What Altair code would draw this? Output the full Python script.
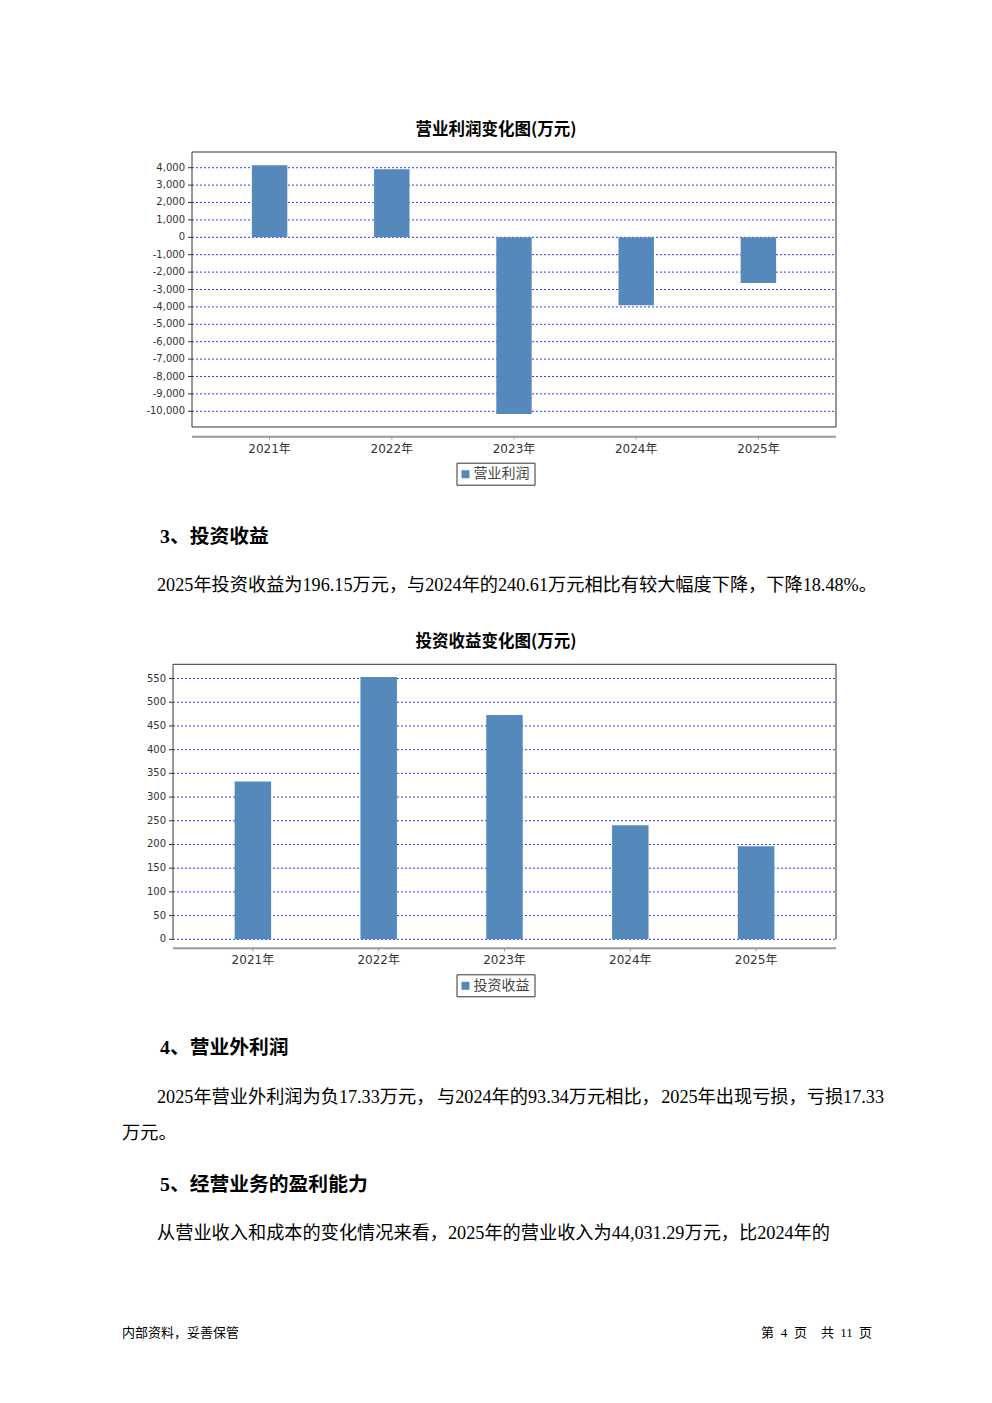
import altair as alt
import pandas as pd

# ---------------- data ----------------
years = ["2021年", "2022年", "2023年", "2024年", "2025年"]
operating_profit = [4140, 3910, -10150, -3910, -2625]
investment_income = [333, 553, 473, 240.61, 196.15]

op_ticks = [4000, 3000, 2000, 1000, 0, -1000, -2000, -3000, -4000, -5000,
            -6000, -7000, -8000, -9000, -10000]
op_tick_labels = ["4,000", "3,000", "2,000", "1,000", "0", "-1,000", "-2,000",
                  "-3,000", "-4,000", "-5,000", "-6,000", "-7,000", "-8,000",
                  "-9,000", "-10,000"]
inv_ticks = [550, 500, 450, 400, 350, 300, 250, 200, 150, 100, 50, 0]
inv_tick_labels = ["550", "500", "450", "400", "350", "300", "250", "200",
                   "150", "100", "50", "0"]

title1 = "营业利润变化图(万元)"
title2 = "投资收益变化图(万元)"
legend1 = "营业利润"
legend2 = "投资收益"

# ---------------- styling ----------------
O = 8  # page margin
BAR = "#5589bc"
GRID = "#3535ff"
FRAME = "#333333"
AXIS = "#9a9a9a"
LABEL = "#333333"
TICKFONT = "DejaVu Sans, Noto Sans CJK SC"
CJK = "Noto Sans CJK SC"
BODYFONT = "Liberation Serif, Noto Sans CJK SC"

DUMMY = pd.DataFrame({"k": [0]})


def P(v):
    return v - O


def seg(x1, y1, x2, y2, color=FRAME, width=1):
    return alt.Chart(DUMMY).mark_rule(color=color, strokeWidth=width).encode(
        x=alt.value(P(x1)), x2=alt.value(P(x2)),
        y=alt.value(P(y1)), y2=alt.value(P(y2)))


def txt(s, x, y, size, font=BODYFONT, weight="normal", align="left",
        color="#000000", baseline="middle"):
    return alt.Chart(DUMMY).mark_text(
        align=align, baseline=baseline, font=font, fontSize=size,
        fontWeight=weight, color=color).encode(
        x=alt.value(P(x)), y=alt.value(P(y)), text=alt.value(s))


def bar_chart(values, ticks, labels, title, legend, g):
    xs = alt.Scale(type="band", domain=years,
                   range=[P(g["left"]), P(g["right"])],
                   paddingInner=0.71, paddingOuter=0.49)
    ys = alt.Scale(domain=g["dom"], range=[P(g["bottom"]), P(g["top"])],
                   nice=False, zero=False)
    df = pd.DataFrame({"year": years, "value": values})
    tdf = pd.DataFrame({"v": ticks, "label": labels})

    grid = alt.Chart(tdf).mark_rule(color=GRID, strokeWidth=1,
                                    strokeDash=[2, 2]).encode(
        y=alt.Y("v:Q", scale=ys, axis=None),
        x=alt.value(P(g["left"])), x2=alt.value(P(g["right"])))
    bars = alt.Chart(df).mark_bar(color=BAR).encode(
        x=alt.X("year:N", scale=xs, axis=None, sort=None),
        y=alt.Y("value:Q", scale=ys, axis=None),
        y2=alt.datum(0))
    yticks = alt.Chart(tdf).mark_rule(color=FRAME, strokeWidth=1).encode(
        y=alt.Y("v:Q", scale=ys, axis=None),
        x=alt.value(P(g["left"] - 4)), x2=alt.value(P(g["left"])))
    ylabels = alt.Chart(tdf).mark_text(
        align="right", baseline="middle", font=TICKFONT, fontSize=10,
        color=LABEL).encode(
        y=alt.Y("v:Q", scale=ys, axis=None),
        x=alt.value(P(g["left"] - 7)), text="label:N")
    xticks = alt.Chart(df).mark_rule(color=AXIS, strokeWidth=1).encode(
        x=alt.X("year:N", scale=xs, axis=None, sort=None, bandPosition=0.5),
        y=alt.value(P(g["axis_y"])), y2=alt.value(P(g["axis_y"] + 3)))
    xlabels = alt.Chart(df).mark_text(
        align="center", baseline="middle", font=TICKFONT, fontSize=12,
        color=LABEL).encode(
        x=alt.X("year:N", scale=xs, axis=None, sort=None, bandPosition=0.5),
        y=alt.value(P(g["axis_y"] + 12)), text="year:N")

    frame = [seg(g["left"], g["top"], g["right"], g["top"]),
             seg(g["left"], g["top"], g["left"], g["bottom"]),
             seg(g["right"], g["top"], g["right"], g["bottom"])]
    if g["bottom_edge"]:
        frame.append(seg(g["left"], g["bottom"], g["right"], g["bottom"]))
    xaxis = seg(g["left"], g["axis_y"], g["right"], g["axis_y"],
                color=AXIS, width=2)

    ly0 = g["axis_y"] + 26.5
    ly1 = g["axis_y"] + 48.5
    lbox = alt.Chart(DUMMY).mark_rect(fill="#ffffff", stroke=FRAME,
                                      strokeWidth=1).encode(
        x=alt.value(P(457)), x2=alt.value(P(535)),
        y=alt.value(P(ly0)), y2=alt.value(P(ly1)))
    lsq = alt.Chart(DUMMY).mark_rect(fill=BAR).encode(
        x=alt.value(P(461.5)), x2=alt.value(P(469.5)),
        y=alt.value(P((ly0 + ly1) / 2 - 4)), y2=alt.value(P((ly0 + ly1) / 2 + 4)))
    ltxt = txt(legend, 473.5, (ly0 + ly1) / 2, 14, font=CJK, color="#444444")
    ttl = txt(title, 496, g["title_y"], 16.5, font=CJK, weight="bold",
              align="center")

    return [grid, bars] + frame + [yticks, ylabels, xaxis, xticks, xlabels,
                                   lbox, lsq, ltxt, ttl]


g1 = dict(left=192, right=836, top=152, bottom=427, axis_y=436.7,
          dom=[-10902, 4902], title_y=130, bottom_edge=True)
g2 = dict(left=173, right=836, top=664.3, bottom=939.3, axis_y=948.3,
          dom=[0, 580], title_y=641.5, bottom_edge=False)

layers = []
layers += bar_chart(operating_profit, op_ticks, op_tick_labels, title1, legend1, g1)
layers += bar_chart(investment_income, inv_ticks, inv_tick_labels, title2, legend2, g2)

HS = 19.8
BS = 18.2
FS = 13
layers += [
    txt("3、投资收益", 160, 537, HS, weight="bold"),
    txt("2025年投资收益为196.15万元，与2024年的240.61万元相比有较大幅度下降，下降18.48%。",
        157, 586, BS),
    txt("4、营业外利润", 160, 1048, HS, weight="bold"),
    txt("2025年营业外利润为负17.33万元，", 157, 1098, BS),
    txt("与2024年的93.34万元相比，", 437, 1098, BS),
    txt("2025年出现亏损，亏损17.33", 884, 1098, BS, align="right"),
    txt("万元。", 122, 1134, BS),
    txt("5、经营业务的盈利能力", 160, 1185, HS, weight="bold"),
    txt("从营业收入和成本的变化情况来看，2025年的营业收入为44,031.29万元，比2024年的",
        157, 1234, BS),
    txt("内部资料，妥善保管", 122, 1333, FS, font=CJK),
    txt("第", 761, 1333, FS, font=CJK),
    txt("4", 784, 1333, FS, align="center"),
    txt("页", 794, 1333, FS, font=CJK),
    txt("共", 821, 1333, FS, font=CJK),
    txt("11", 846.5, 1333, FS, align="center"),
    txt("页", 859, 1333, FS, font=CJK),
]

chart = alt.layer(*layers).resolve_scale(
    x="independent", y="independent"
).properties(
    width=976, height=1387,
    autosize=alt.AutoSizeParams(type="none"),
    padding=0,
    background="#ffffff",
).configure_view(strokeWidth=0)

chart.save("out.html", embed_options={"renderer": "svg", "actions": False})
